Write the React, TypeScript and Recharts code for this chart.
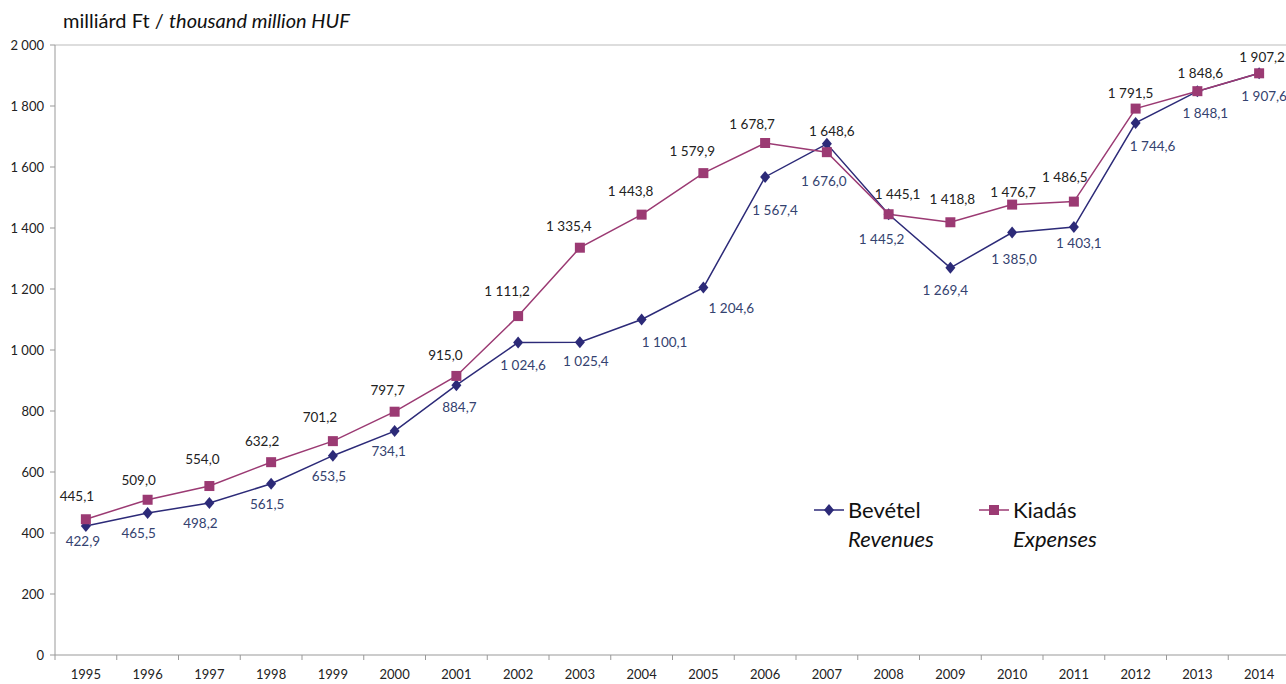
import React from 'react';
import { LineChart, Line, XAxis, YAxis, ReferenceLine, LabelList } from 'recharts';

const years = [
  '1995', '1996', '1997', '1998', '1999', '2000', '2001', '2002', '2003', '2004',
  '2005', '2006', '2007', '2008', '2009', '2010', '2011', '2012', '2013', '2014',
];
const revenues = [
  422.9, 465.5, 498.2, 561.5, 653.5, 734.1, 884.7, 1024.6, 1025.4, 1100.1,
  1204.6, 1567.4, 1676.0, 1445.2, 1269.4, 1385.0, 1403.1, 1744.6, 1848.1, 1907.6,
];
const expenses = [
  445.1, 509.0, 554.0, 632.2, 701.2, 797.7, 915.0, 1111.2, 1335.4, 1443.8,
  1579.9, 1678.7, 1648.6, 1445.1, 1418.8, 1476.7, 1486.5, 1791.5, 1848.6, 1907.2,
];
const yTicks = [0, 200, 400, 600, 800, 1000, 1200, 1400, 1600, 1800, 2000];

// adatfeliratok kézi eltolása (px), ahogy az eredeti ábrán
const revLabelDx = [-3, -9, -9, -4, -4, -6, 3, 5, 6, 23, 28, 10, -3, -7, -5, 2, 5, 17, 8, 5];
const revLabelDy = [15, 20, 20, 20, 20, 20, 22, 23, 19, 23, 20, 33, 37, 25, 22, 26, 16, 23, 22, 23];
const expLabelDx = [-9, -9, -7, -9, -13, -7, -11, -11, -11, -11, -11, -13, 5, 9, 2, 1, -9, -5, 3, 3];
const expLabelDy = [-23, -20, -27, -21, -24, -22, -21, -25, -22, -24, -22, -19, -21, -20, -23, -13, -25, -16, -18, -16];

const W = 1286;
const H = 684;
const Y_AXIS_W = 55;
const RIGHT = -4; // a rajzterület kicsit túlnyúlik a képen
const BAND = (W - RIGHT - Y_AXIS_W) / years.length;

const REV_COLOR = '#2c2a78';
const EXP_COLOR = '#9b3a73';
const REV_LABEL = '#34426f';
const FONT = 'Lato, "Open Sans", sans-serif';

const data = years.map((y, i) => ({ year: y, rev: revenues[i], exp: expenses[i] }));

// magyar számformátum: szóköz ezres elválasztó, vessző tizedesjel
const fmt = (v: number, digits = 1) => {
  const [i, d] = v.toFixed(digits).split('.');
  const int = i.replace(/\B(?=(\d{3})+(?!\d))/g, ' ');
  return d ? `${int},${d}` : int;
};

const Diamond = (props: any) => {
  const { cx, cy } = props;
  if (cx == null || cy == null) return null;
  return <path d={`M${cx},${cy - 6}L${cx + 5},${cy}L${cx},${cy + 6}L${cx - 5},${cy}Z`} fill={REV_COLOR} />;
};

const Square = (props: any) => {
  const { cx, cy } = props;
  if (cx == null || cy == null) return null;
  return <rect x={cx - 5} y={cy - 5} width={10} height={10} fill={EXP_COLOR} />;
};

const makeLabel = (dxs: number[], dys: number[], color: string) => (props: any) => {
  const { x, y, value, index } = props;
  if (x == null || y == null) return null;
  return (
    <text
      x={x + dxs[index]}
      y={y + dys[index]}
      textAnchor="middle"
      dominantBaseline="central"
      fontSize={13.5}
      fill={color}
      fontFamily={FONT}
    >
      {fmt(Number(value))}
    </text>
  );
};

const RevLabel = makeLabel(revLabelDx, revLabelDy, REV_LABEL);
const ExpLabel = makeLabel(expLabelDx, expLabelDy, '#222');

// Excel-szerű osztásjelek a kategóriák között
const YearTick = (props: any) => {
  const { x, y, payload, index } = props;
  const half = BAND / 2;
  return (
    <g>
      <line x1={x - half} y1={y - 8} x2={x - half} y2={y - 3} stroke="#999" />
      {index === years.length - 1 && (
        <line x1={x + half} y1={y - 8} x2={x + half} y2={y - 3} stroke="#999" />
      )}
      <text x={x} y={y + 16} textAnchor="middle" fontSize={13} fill="#222" fontFamily={FONT}>
        {payload.value}
      </text>
    </g>
  );
};

const LegendBox = () => {
  const item = (hu: string, en: string, color: string, diamond: boolean, gap: number) => (
    <div style={{ display: 'flex', alignItems: 'flex-start', marginRight: gap }}>
      <svg width={34} height={30}>
        <line x1={0} y1={15} x2={30} y2={15} stroke={color} strokeWidth={1.5} />
        {diamond ? (
          <path d="M15,9L20,15L15,21L10,15Z" fill={color} />
        ) : (
          <rect x={10} y={10} width={10} height={10} fill={color} />
        )}
      </svg>
      <div style={{ lineHeight: '29px', fontSize: 22, color: '#111' }}>
        <div>{hu}</div>
        <div style={{ fontStyle: 'italic' }}>{en}</div>
      </div>
    </div>
  );
  return (
    <div style={{ position: 'absolute', left: 814, top: 495, display: 'flex', fontFamily: FONT }}>
      {item('Bevétel', 'Revenues', REV_COLOR, true, 45)}
      {item('Kiadás', 'Expenses', EXP_COLOR, false, 0)}
    </div>
  );
};

export default function App() {
  return (
    <div style={{ position: 'absolute', left: 0, top: 0, width: W, height: H, background: '#fff', fontFamily: FONT, overflow: 'hidden' }}>
      <div style={{ position: 'absolute', left: 63, top: 8, fontSize: 20, color: '#111', whiteSpace: 'nowrap' }}>
        milliárd Ft / <span style={{ fontStyle: 'italic' }}>thousand million HUF</span>
      </div>
      <LineChart width={W} height={H} data={data} margin={{ top: 45, right: RIGHT, left: 0, bottom: 0 }}>
        <XAxis
          dataKey="year"
          height={29}
          padding={{ left: BAND / 2, right: BAND / 2 }}
          stroke="#999"
          tickLine={false}
          tick={<YearTick />}
          interval={0}
        />
        <YAxis
          width={Y_AXIS_W}
          domain={[0, 2000]}
          ticks={yTicks}
          stroke="#999"
          tickSize={5}
          tickMargin={6}
          tickFormatter={(v: number) => fmt(v, 0)}
          tick={{ fontSize: 13, fill: '#222', fontFamily: FONT }}
        />
        <ReferenceLine y={2000} stroke="#bbb" />
        <Line
          dataKey="rev"
          stroke={REV_COLOR}
          strokeWidth={1.5}
          dot={<Diamond />}
          activeDot={false}
          isAnimationActive={false}
        >
          <LabelList dataKey="rev" content={RevLabel} />
        </Line>
        <Line
          dataKey="exp"
          stroke={EXP_COLOR}
          strokeWidth={1.5}
          dot={<Square />}
          activeDot={false}
          isAnimationActive={false}
        >
          <LabelList dataKey="exp" content={ExpLabel} />
        </Line>
      </LineChart>
      <LegendBox />
    </div>
  );
}
